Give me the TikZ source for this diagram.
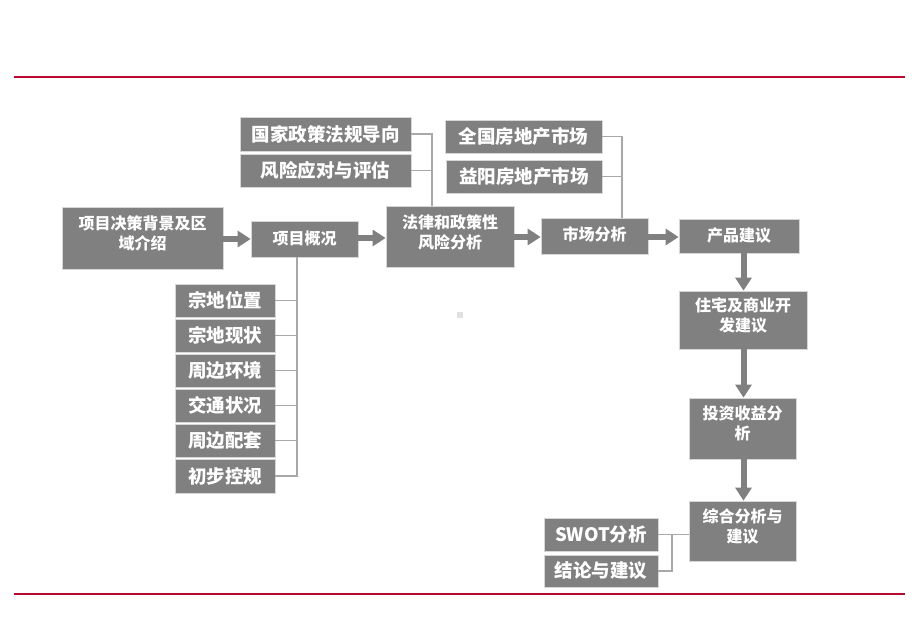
\documentclass[tikz,border=0pt]{standalone}
\usepackage{fontspec}
\newfontfamily\cjk{Noto Sans CJK SC}
\usetikzlibrary{arrows.meta,calc}
\definecolor{boxgray}{RGB}{128,128,128}
\definecolor{boxedge}{RGB}{215,215,215}
\definecolor{linkgray}{RGB}{168,168,168}
\definecolor{rulered}{RGB}{185,10,45}
\definecolor{dotgray}{RGB}{225,225,225}
\tikzset{
  box/.style={fill=boxgray, draw=boxedge, line width=0.8pt, inner sep=0pt},
  maintext/.style={text=white, inner sep=0pt, align=center, font=\cjk\bfseries\fontsize{16}{20}\selectfont},
  sidetext/.style={text=white, inner sep=0pt, align=center, font=\cjk\bfseries\fontsize{18.5}{22}\selectfont},
  link/.style={draw=linkgray, line width=1.4pt},
  bigarrow/.style={draw=boxgray, line width=6pt, -{Triangle[length=13pt,width=16pt]}},
  redrule/.style={draw=rulered, line width=1.5pt}
}
% name, x1, y1, x2, y2, text shift up, text style, text
\newcommand\mybox[8]{%
  \node[box, minimum width={#4-#2}, minimum height={#5-#3}] (#1) at ({(#2+#4)/2},{(#3+#5)/2}) {};
  \node[#7] (#1-t) at ([yshift=#6]#1.center) {#8};}
\begin{document}
\begin{tikzpicture}[x=1pt,y=-1pt]
\useasboundingbox[fill=white] (0,0) rectangle (920,637);
% rules
\coordinate (r1a) at (14,77); \coordinate (r1b) at (905,77);
\coordinate (r2a) at (14,594); \coordinate (r2b) at (905,594);
\draw[redrule] (r1a) -- (r1b);
\draw[redrule] (r2a) -- (r2b);
\fill[dotgray] (457,312) rectangle (463,318);

% boxes
\mybox{gj}{240}{117}{411}{151}{0pt}{sidetext}{国家政策法规导向}
\mybox{fx}{240}{154}{411}{187}{0pt}{sidetext}{风险应对与评估}
\mybox{bj}{62}{207}{223}{269}{5pt}{maintext}{项目决策背景及区\\域介绍}
\mybox{gk}{251}{221}{358}{257}{1pt}{maintext}{项目概况}
\mybox{fl}{386}{206}{514}{267}{4pt}{maintext}{法律和政策性\\风险分析}
\mybox{qg}{445}{120}{602}{153}{0pt}{sidetext}{全国房地产市场}
\mybox{yy}{446}{160}{602}{193}{0pt}{sidetext}{益阳房地产市场}
\mybox{sc}{541}{218}{648}{254}{2pt}{maintext}{市场分析}
\mybox{cp}{679}{219}{799}{253}{1pt}{maintext}{产品建议}
\mybox{zz}{679}{291}{807}{349}{5pt}{maintext}{住宅及商业开\\发建议}
\mybox{tz}{689}{398}{796}{459}{5pt}{maintext}{投资收益分\\析}
\mybox{zh}{689}{501}{796}{561}{5pt}{maintext}{综合分析与\\建议}
\mybox{sw}{544}{518}{658}{551}{0pt}{sidetext}{SWOT分析}
\mybox{jl}{544}{555}{658}{587}{0pt}{sidetext}{结论与建议}
\mybox{s1}{175}{284}{275}{317}{0pt}{sidetext}{宗地位置}
\mybox{s2}{175}{319}{275}{352}{0pt}{sidetext}{宗地现状}
\mybox{s3}{175}{354}{275}{387}{0pt}{sidetext}{周边环境}
\mybox{s4}{175}{389}{275}{422}{0pt}{sidetext}{交通状况}
\mybox{s5}{175}{424}{275}{457}{0pt}{sidetext}{周边配套}
\mybox{s6}{175}{459}{275}{493}{0pt}{sidetext}{初步控规}

% thin connectors
\coordinate (j1) at (432,134);
\draw[link] (gj.east) -- (j1) -- (j1 |- fl.north);
\draw[link] (fx.east) -- (fx.east -| j1);
\coordinate (j2) at (622,136.5);
\draw[link] (qg.east) -- (j2) -- (j2 |- sc.north);
\draw[link] (yy.east) -- (yy.east -| j2);
\coordinate (j3) at (297,257);
\draw[link] (j3) -- (j3 |- s6.east) -- (s6.east);
\foreach \s in {s1,s2,s3,s4,s5}{\draw[link] (\s.east) -- (\s.east -| j3);}
\coordinate (j4) at (672,534.5);
\draw[link] (sw.east) -- (zh.west |- sw.east);
\draw[link] (j4) -- (j4 |- jl.east) -- (jl.east);

% big arrows
\draw[bigarrow] (bj.east |- gk.west) -- (gk.west);
\draw[bigarrow] (gk.east) ++(0,-1) coordinate (a2) -- (fl.west |- a2);
\draw[bigarrow] (fl.east |- sc.west) ++(0,1) coordinate (a3) -- (sc.west |- a3);
\draw[bigarrow] (sc.east) ++(0,1) coordinate (a4) -- (cp.west |- a4);
\coordinate (v1) at (743.5,253);
\draw[bigarrow] (v1) -- (v1 |- zz.north);
\draw[bigarrow] (v1 |- zz.south) -- (v1 |- tz.north);
\draw[bigarrow] (v1 |- tz.south) -- (v1 |- zh.north);
\end{tikzpicture}
\end{document}
